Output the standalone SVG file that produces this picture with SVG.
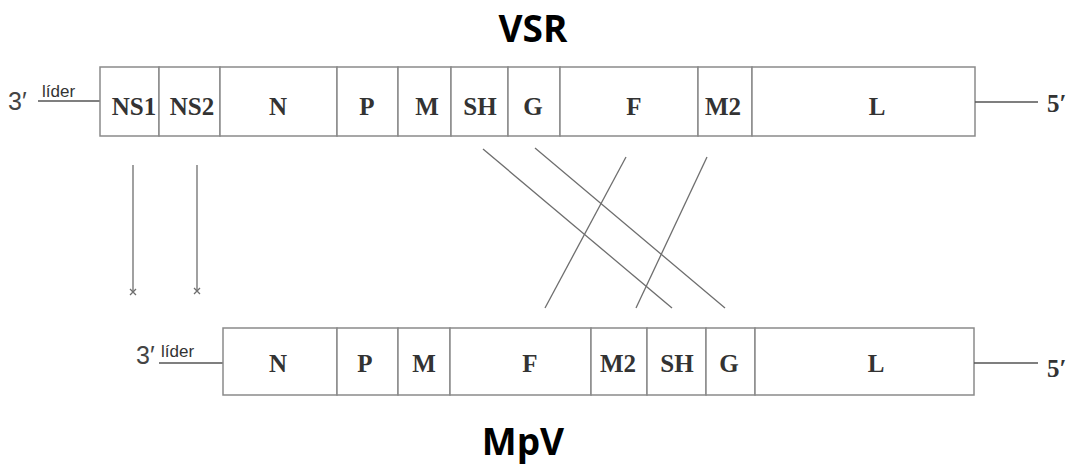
<svg xmlns="http://www.w3.org/2000/svg" width="1071" height="467" viewBox="0 0 1071 467">
<style>
.seg{fill:#fff;stroke:#8a8a8a;stroke-width:1.5}
.lbl{font-family:"Liberation Serif","Times New Roman",serif;font-weight:bold;font-size:25px;fill:#333;text-anchor:middle}
.end{font-family:"Liberation Serif","Times New Roman",serif;font-weight:bold;font-size:25px;fill:#333}
.end3{font-family:"Liberation Sans",Arial,sans-serif;font-size:25px;fill:#444}
.lead{font-family:"Liberation Sans",Arial,sans-serif;font-size:17px;fill:#333}
.title{font-family:"Open Sans","Liberation Sans",sans-serif;font-weight:bold;font-size:37px;fill:#000;text-anchor:middle}
.tail{stroke:#555;stroke-width:1.3;fill:none}
.conn{stroke:#6e6e6e;stroke-width:1.3;fill:none}
</style>
<rect width="1071" height="467" fill="#fff"/>
<g id="title-vsr"><text class="title" x="533" y="42">VSR</text></g>
<g id="title-mpv"><text class="title" x="523" y="455">MpV</text></g>

<g id="vsr-genome">
<g id="vsr-3end"><text class="end3" x="8" y="110">3′</text><text class="lead" x="42" y="97">líder</text><line class="tail" x1="38" y1="101" x2="100" y2="101"/></g>
<g id="vsr-NS1"><rect class="seg" x="100" y="67" width="59" height="69"/><text class="lbl" x="134" y="115">NS1</text></g>
<g id="vsr-NS2"><rect class="seg" x="159" y="67" width="61" height="69"/><text class="lbl" x="192" y="115">NS2</text></g>
<g id="vsr-N"><rect class="seg" x="220" y="67" width="117" height="69"/><text class="lbl" x="278" y="115">N</text></g>
<g id="vsr-P"><rect class="seg" x="337" y="67" width="61" height="69"/><text class="lbl" x="367" y="115">P</text></g>
<g id="vsr-M"><rect class="seg" x="398" y="67" width="53" height="69"/><text class="lbl" x="427" y="115">M</text></g>
<g id="vsr-SH"><rect class="seg" x="451" y="67" width="57" height="69"/><text class="lbl" x="480" y="115">SH</text></g>
<g id="vsr-G"><rect class="seg" x="508" y="67" width="52" height="69"/><text class="lbl" x="533" y="115">G</text></g>
<g id="vsr-F"><rect class="seg" x="560" y="67" width="138" height="69"/><text class="lbl" x="634" y="115">F</text></g>
<g id="vsr-M2"><rect class="seg" x="698" y="67" width="54" height="69"/><text class="lbl" x="723" y="115">M2</text></g>
<g id="vsr-L"><rect class="seg" x="752" y="67" width="223" height="69"/><text class="lbl" x="877" y="115">L</text></g>
<g id="vsr-5end"><line class="tail" x1="975" y1="102" x2="1038" y2="102"/><text class="end" x="1047" y="112">5′</text></g>
</g>

<g id="mpv-genome">
<g id="mpv-3end"><text class="end3" x="136" y="364">3′</text><text class="lead" x="161" y="357">líder</text><line class="tail" x1="159" y1="363" x2="223" y2="363"/></g>
<g id="mpv-N"><rect class="seg" x="223" y="328" width="114" height="67"/><text class="lbl" x="278" y="372">N</text></g>
<g id="mpv-P"><rect class="seg" x="337" y="328" width="61" height="67"/><text class="lbl" x="365" y="372">P</text></g>
<g id="mpv-M"><rect class="seg" x="398" y="328" width="52" height="67"/><text class="lbl" x="424" y="372">M</text></g>
<g id="mpv-F"><rect class="seg" x="450" y="328" width="141" height="67"/><text class="lbl" x="530" y="372">F</text></g>
<g id="mpv-M2"><rect class="seg" x="591" y="328" width="56" height="67"/><text class="lbl" x="618" y="372">M2</text></g>
<g id="mpv-SH"><rect class="seg" x="647" y="328" width="59" height="67"/><text class="lbl" x="677" y="372">SH</text></g>
<g id="mpv-G"><rect class="seg" x="706" y="328" width="49" height="67"/><text class="lbl" x="729" y="372">G</text></g>
<g id="mpv-L"><rect class="seg" x="755" y="328" width="219" height="67"/><text class="lbl" x="876" y="372">L</text></g>
<g id="mpv-5end"><line class="tail" x1="974" y1="363" x2="1038" y2="363"/><text class="end" x="1047" y="377">5′</text></g>
</g>

<g id="connectors">
<line class="conn" x1="133" y1="165" x2="133" y2="292"/>
<path class="conn" d="M130,289 L136,295 M136,289 L130,295"/>
<line class="conn" x1="197" y1="165" x2="197" y2="291" stroke-width="1.8" stroke="#999"/>
<path class="conn" d="M194,288 L200,294 M200,288 L194,294"/>
<line class="conn" x1="483" y1="149" x2="672" y2="308"/>
<line class="conn" x1="535" y1="148" x2="725" y2="308"/>
<line class="conn" x1="626" y1="157" x2="545" y2="308"/>
<line class="conn" x1="707" y1="157" x2="636" y2="308"/>
</g>
</svg>
